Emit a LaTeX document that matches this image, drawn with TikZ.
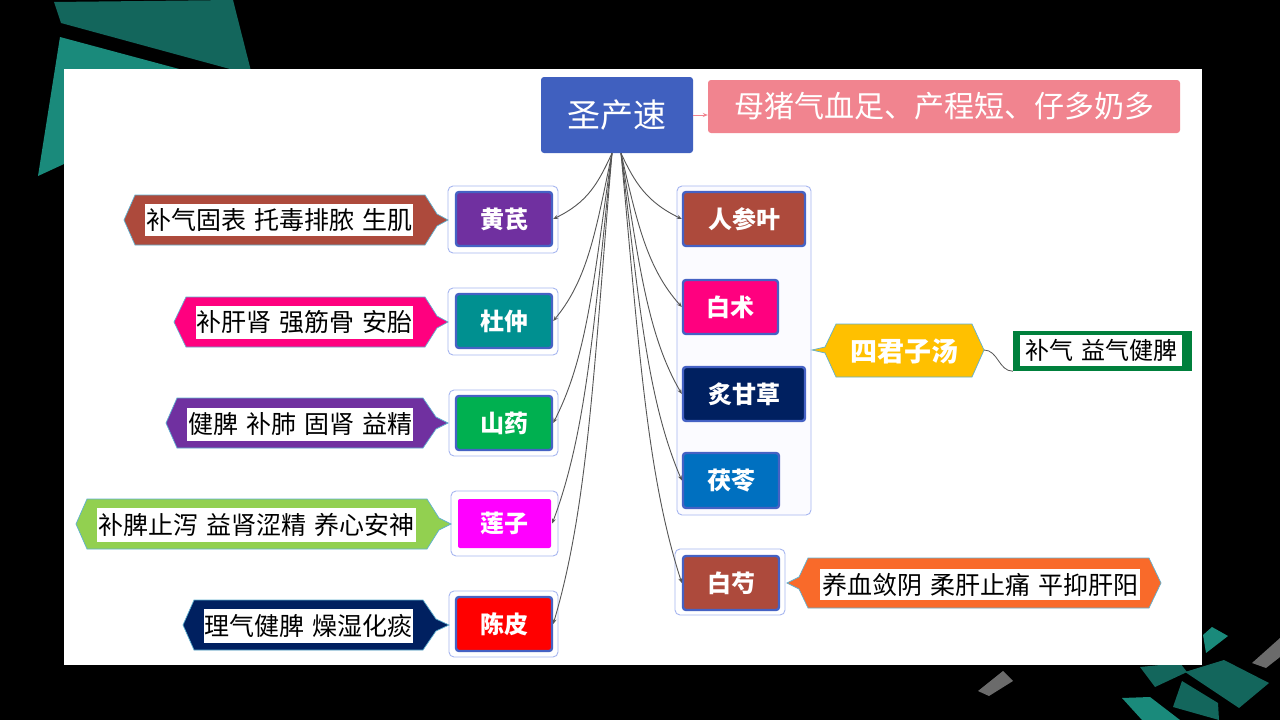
\documentclass[tikz,border=0pt]{standalone}
\usepackage{fontspec}
\setmainfont{Noto Sans CJK SC}
\usetikzlibrary{arrows.meta}
\definecolor{tealdark}{HTML}{13665C}
\definecolor{teallight}{HTML}{1A8A7B}
\definecolor{decogray}{HTML}{6B6B6B}
\definecolor{rootblue}{HTML}{4060BF}
\definecolor{pinkbox}{HTML}{F1848F}
\definecolor{herbborder}{HTML}{4562C4}
\definecolor{framec}{HTML}{A6B6F0}
\definecolor{outlinec}{HTML}{5FB0D0}
\definecolor{conngray}{HTML}{555555}
\definecolor{cbrown}{HTML}{AD4A3C}
\definecolor{cpurple}{HTML}{7030A0}
\definecolor{cteal}{HTML}{009090}
\definecolor{cgreen}{HTML}{00B050}
\definecolor{cmagenta}{HTML}{FF00FF}
\definecolor{cred}{HTML}{FF0000}
\definecolor{cpink}{HTML}{FF007F}
\definecolor{cnavy}{HTML}{002060}
\definecolor{cblue}{HTML}{0070C0}
\definecolor{clime}{HTML}{92D050}
\definecolor{cyellow}{HTML}{FFC000}
\definecolor{corange}{HTML}{F96A2A}
\definecolor{bqgreen}{HTML}{00803C}
\newcommand\mygap{\hspace{8pt}}
\begin{document}
\begin{tikzpicture}[x=1pt,y=-1pt,
  framebox/.style={draw=framec, line width=0.9pt, rounded corners=5pt, fill=white, inner sep=0pt},
  herb/.style={draw=herbborder, line width=2.4pt, rounded corners=3pt, text=white,
    font=\fontsize{24}{26}\selectfont\bfseries, inner sep=0pt},
  desc/.style={fill=white, inner sep=0pt, text=black, font=\fontsize{25}{28}\selectfont},
  callout/.style={draw=outlinec, line width=0.7pt},
  conn/.style={draw=conngray, line width=0.9pt, -{Stealth[length=5pt,width=4pt]}}]
% background
\fill[black] (0,0) rectangle (1280,720);
\useasboundingbox (0,0) rectangle (1280,720);
% top-left decoration
\fill[tealdark] (54,2) -- (233,0) -- (252,75) -- (61,23) -- cycle;
\fill[teallight] (60,37) -- (250,88) -- (64,164) -- (38,176) -- cycle;
% bottom-right decoration
\fill[decogray] (978,691) -- (1003,671) -- (1013,681) -- (989,696) -- cycle;
\fill[decogray] (1252,663) -- (1280,638) -- (1280,657) -- (1266,668) -- cycle;
\fill[teallight] (1203,635) -- (1212,627) -- (1228,636) -- (1206,653) -- cycle;
\fill[tealdark] (1140,667) -- (1180,663) -- (1187,672) -- (1155,687) -- cycle;
\fill[tealdark] (1185,672) -- (1224,660) -- (1269,683) -- (1239,708) -- cycle;
\fill[tealdark] (1182,681) -- (1218,703) -- (1219,720) -- (1173,707) -- cycle;
\fill[teallight] (1122,698) -- (1150,697) -- (1180,720) -- (1142,720) -- cycle;
% white canvas
\fill[white] (64,69) rectangle (1202,665);

% root and goal
\node[fill=rootblue, rounded corners=3pt, minimum width=152pt, minimum height=76pt, inner sep=0pt,
  text=white, font=\fontsize{33}{36}\selectfont] (root) at (617,115) {圣产速};
\node[fill=pinkbox, rounded corners=3pt, minimum width=472pt, minimum height=53pt, inner sep=0pt,
  text=white, font=\fontsize{30}{32}\selectfont] (goal) at (944,106.5) {母猪气血足、产程短、仔多奶多};
\draw[draw=pinkbox, line width=0.8pt, -{Stealth[length=5pt,width=4pt]}] (root.east) -- (root.east -| goal.west);

% left frames and herbs
\node[framebox, minimum width=110pt, minimum height=67pt] (hqf) at (503,219.5) {};
\node[herb, fill=cpurple, minimum width=96pt, minimum height=54pt] (hq) at (504,219) {黄芪};
\node[framebox, minimum width=110pt, minimum height=67pt] (dzf) at (503,321.5) {};
\node[herb, fill=cteal, minimum width=96pt, minimum height=54pt] (dz) at (504,321) {杜仲};
\node[framebox, minimum width=109pt, minimum height=66pt] (syf) at (503.5,423) {};
\node[herb, fill=cgreen, minimum width=96pt, minimum height=54pt] (sy) at (504,423) {山药};
\node[framebox, minimum width=107pt, minimum height=65pt] (lzf) at (504.5,523.5) {};
\node[herb, draw=none, fill=cmagenta, rounded corners=2pt, minimum width=93pt, minimum height=49pt] (lz) at (504.5,523.5) {莲子};
\node[framebox, minimum width=109pt, minimum height=66pt] (cpf) at (503.5,624) {};
\node[herb, fill=cred, minimum width=96pt, minimum height=54pt] (cp) at (504,624) {陈皮};

% right group
\node[framebox, fill={rgb,255:red,251;green,251;blue,255}, minimum width=134pt, minimum height=329pt] (grp) at (744,350.5) {};
\node[herb, fill=cbrown, minimum width=122pt, minimum height=54pt] (rsy) at (744,219) {人参叶};
\node[herb, fill=cpink, minimum width=95pt, minimum height=54pt] (bz) at (730.5,307) {白术};
\node[herb, fill=cnavy, minimum width=122pt, minimum height=54pt] (zgc) at (744,394) {炙甘草};
\node[herb, fill=cblue, minimum width=96pt, minimum height=55pt] (fl) at (731,480.5) {茯苓};
\node[framebox, minimum width=110pt, minimum height=66pt] (bsf) at (730,582) {};
\node[herb, fill=cbrown, minimum width=96pt, minimum height=54pt] (bs) at (731,583) {白芍};

% connectors from root
\draw[conn] ([xshift=-5pt]root.south) .. controls +(-14,30) and +(35,-17) .. (hq.east);
\draw[conn] ([xshift=-5pt]root.south) .. controls +(-16,76) and +(35,-42) .. (dz.east);
\draw[conn] ([xshift=-5pt]root.south) .. controls +(-18,122) and +(35,-68) .. (sy.east);
\draw[conn] ([xshift=-5pt]root.south) .. controls +(-18,167) and +(35,-93) .. (lz.east);
\draw[conn] ([xshift=-5pt]root.south) .. controls +(-18,212) and +(35,-118) .. (cp.east);
\draw[conn] ([xshift=4pt]root.south) .. controls +(14,30) and +(-35,-17) .. (rsy.west);
\draw[conn] ([xshift=4pt]root.south) .. controls +(16,69) and +(-35,-39) .. (bz.west);
\draw[conn] ([xshift=4pt]root.south) .. controls +(18,108) and +(-35,-60) .. (zgc.west);
\draw[conn] ([xshift=4pt]root.south) .. controls +(18,147) and +(-35,-82) .. (fl.west);
\draw[conn] ([xshift=4pt]root.south) .. controls +(18,194) and +(-35,-108) .. (bs.west);

% left callouts
\filldraw[callout, fill=cbrown] (124,220) -- (135,195) -- (425,195) -- (437,214) -- (448,220) -- (437,226) -- (425,245) -- (135,245) -- cycle;
\node[desc, minimum width=268pt, minimum height=32pt] (d1) at (279,220) {补气固表\mygap 托毒排脓\mygap 生肌};
\filldraw[callout, fill=cpink] (174,322) -- (186,297) -- (425,297) -- (437,316) -- (448,322) -- (437,328) -- (425,347) -- (186,347) -- cycle;
\node[desc, minimum width=217pt, minimum height=33pt] (d2) at (304.5,322.5) {补肝肾\mygap 强筋骨\mygap 安胎};
\filldraw[callout, fill=cpurple] (166,423) -- (177,398) -- (423,398) -- (436,417) -- (448,423) -- (436,429) -- (423,448) -- (177,448) -- cycle;
\node[desc, minimum width=226pt, minimum height=33pt] (d3) at (300,424.5) {健脾\mygap 补肺\mygap 固肾\mygap 益精};
\filldraw[callout, fill=clime] (76,524) -- (87,499) -- (427,499) -- (439,518) -- (451,524) -- (439,530) -- (427,549) -- (87,549) -- cycle;
\node[desc, minimum width=319pt, minimum height=34pt] (d4) at (256.5,525) {补脾止泻\mygap 益肾涩精\mygap 养心安神};
\filldraw[callout, fill=cnavy] (183,625) -- (194,600) -- (423,600) -- (436,619) -- (449,625) -- (436,631) -- (423,650) -- (194,650) -- cycle;
\node[desc, minimum width=209pt, minimum height=34pt] (d5) at (308.5,626) {理气健脾\mygap 燥湿化痰};

% right callouts
\filldraw[callout, fill=corange] (787,583) -- (799,577) -- (808,558) -- (1149,558) -- (1161,583) -- (1149,608) -- (808,608) -- (799,589) -- cycle;
\node[desc, minimum width=320pt, minimum height=31pt] (d6) at (980,584.5) {养血敛阴\mygap 柔肝止痛\mygap 平抑肝阳};

\filldraw[callout, fill=cyellow] (812,350) -- (825,347) -- (836,324) -- (972,324) -- (984,350) -- (972,377) -- (836,377) -- (825,353) -- cycle;
\node[text=white, inner sep=0pt, font=\fontsize{27}{30}\selectfont\bfseries] (sjzt) at (904,351) {四君子汤};
\coordinate (sjztR) at (984,350);
\node[fill=bqgreen, minimum width=179pt, minimum height=40pt, inner sep=0pt] (bq) at (1102.5,351) {};
\node[desc, fill=white, minimum width=162pt, minimum height=31pt, font=\fontsize{24}{26}\selectfont] (bqt) at (1101,350.5) {补气\mygap 益气健脾};
\draw[draw=conngray, line width=0.8pt] (sjztR) .. controls +(14,0) and +(-14,0) .. (bq.south west);
\end{tikzpicture}
\end{document}
